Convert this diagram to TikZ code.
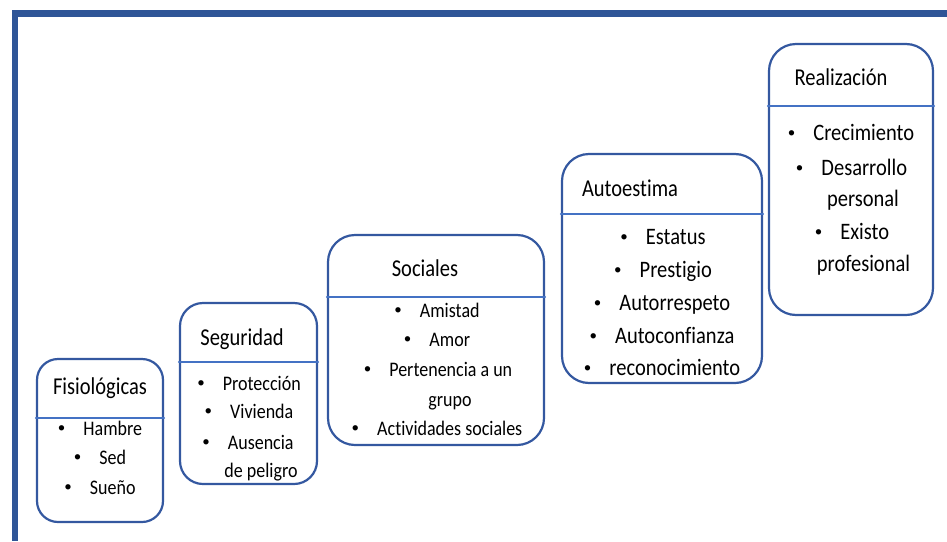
\documentclass[tikz,border=0pt]{standalone}
\usepackage{fontspec}
\setmainfont{Carlito}[Ligatures=NoCommon]
\definecolor{marco}{RGB}{47,85,151}
\definecolor{borde}{RGB}{52,88,160}
\definecolor{linea}{RGB}{68,114,196}
\tikzset{
  caja/.style={draw=borde,line width=2.2pt,inner sep=0pt,fill=white},
  division/.style={draw=linea,line width=2pt},
  titulo/.style={anchor=base,inner sep=0pt,font=\fontsize{20.5}{24}\selectfont},
  punto/.style={anchor=base,inner sep=0pt,font=\fontsize{#1}{24}\selectfont},
  punto/.default=20.5,
}
\newcommand{\bala}{\makebox[25.5pt][l]{\raisebox{3pt}{\fontsize{15}{15}\selectfont\textbullet}}}
\newcommand{\alto}[1]{\scalebox{1}[1.15]{#1}}
\newcommand{\tit}[1]{\scalebox{1}[1.18]{#1}}
\begin{document}
\begin{tikzpicture}[x=1pt,y=-1pt,line cap=round,line join=round]
	\useasboundingbox (0,0) rectangle (947,541);
	% marco
	\fill[marco] (12,10) rectangle (947,17.3);
	\fill[marco] (12,10) rectangle (17.6,541);
	% Fisiologicas
	\node[caja,rounded corners=21pt,minimum width=126pt,minimum height=163pt] (fis) at (100,440.5) {};
	\draw[division] (fis.west |- 0,418) -- (fis.east |- 0,418);
	\node[titulo] (fist) at (100,394.5) {\tit{Fisiológicas}};
	\node[punto=18] (fis1) at (100,435.5) {\bala\alto{Hambre}};
	\node[punto=18] (fis2) at (100,464) {\bala\alto{Sed}};
	\node[punto=18] (fis3) at (100,494) {\bala\alto{Sueño}};
	% Seguridad
	\node[caja,rounded corners=23pt,minimum width=137pt,minimum height=181pt] (seg) at (248.5,393.5) {};
	\draw[division] (seg.west |- 0,362) -- (seg.east |- 0,362);
	\node[titulo] (segt) at (242,345.5) {\tit{Seguridad}};
	\node[punto=18] (seg1) at (249,390) {\bala\alto{Protección}};
	\node[punto=18] (seg2) at (249,418) {\bala\alto{Vivienda}};
	\node[punto=18] (seg3) at (248,449) {\bala\alto{Ausencia}};
	\node[punto=18] (seg4) at (261,477) {\alto{de peligro}};
	% Sociales
	\node[caja,rounded corners=27pt,minimum width=216pt,minimum height=210pt] (soc) at (436,340) {};
	\draw[division] (soc.west |- 0,297) -- (soc.east |- 0,297);
	\node[titulo] (soct) at (425,276.5) {\tit{Sociales}};
	\node[punto=18] (soc1) at (437,317) {\bala\alto{Amistad}};
	\node[punto=18] (soc2) at (437,346.5) {\bala\alto{Amor}};
	\node[punto=18] (soc3) at (438,376) {\bala\alto{Pertenencia a un}};
	\node[punto=18] (soc4) at (450,406) {\alto{grupo}};
	\node[punto=18] (soc5) at (437,435) {\bala\alto{Actividades sociales}};
	% Autoestima
	\node[caja,rounded corners=27pt,minimum width=200pt,minimum height=229pt] (aut) at (662,268.5) {};
	\draw[division] (aut.west |- 0,214) -- (aut.east |- 0,214);
	\node[titulo] (autt) at (630,196.5) {\tit{Autoestima}};
	\node[punto] (aut1) at (663,244.5) {\bala\alto{Estatus}};
	\node[punto] (aut2) at (663,277) {\bala\alto{Prestigio}};
	\node[punto] (aut3) at (662,310) {\bala\alto{Autorrespeto}};
	\node[punto] (aut4) at (662,343) {\bala\alto{Autoconfianza}};
	\node[punto] (aut5) at (662,375) {\bala\alto{reconocimiento}};
	% Realizacion
	\node[caja,rounded corners=27pt,minimum width=164pt,minimum height=271pt] (rea) at (851,179.5) {};
	\draw[division] (rea.west |- 0,106) -- (rea.east |- 0,106);
	\node[titulo] (reat) at (841,85) {\tit{Realización}};
	\node[punto] (rea1) at (851,140) {\bala\alto{Crecimiento}};
	\node[punto] (rea2) at (851.5,175) {\bala\alto{Desarrollo}};
	\node[punto] (rea3) at (863,206) {\alto{personal}};
	\node[punto] (rea4) at (852,239) {\bala\alto{Existo}};
	\node[punto] (rea5) at (863.5,271) {\alto{profesional}};
\end{tikzpicture}
\end{document}
